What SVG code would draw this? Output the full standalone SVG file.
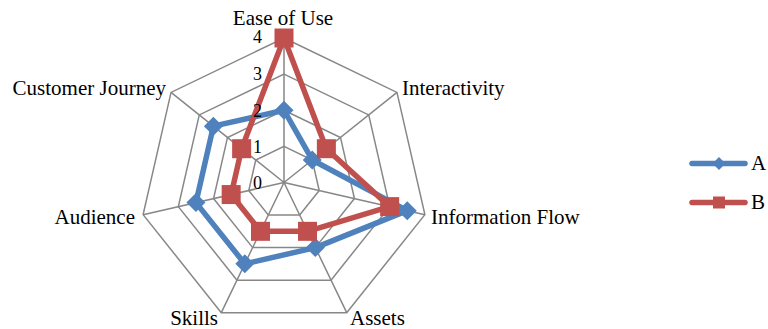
<svg xmlns="http://www.w3.org/2000/svg" width="768" height="329" viewBox="0 0 768 329">
<style>
.grid{fill:none;stroke:#878787;stroke-width:1.5}
.lbl{font-family:'Liberation Serif','Times New Roman','DejaVu Serif',serif;font-size:21px;fill:#000}
.val{font-family:'Liberation Serif','Times New Roman','DejaVu Serif',serif;font-size:18px;fill:#000;text-anchor:end}
.sA{fill:none;stroke:#4F81BD;stroke-width:5.5;stroke-linejoin:round;stroke-linecap:round}
.sB{fill:none;stroke:#C0504D;stroke-width:5.5;stroke-linejoin:round;stroke-linecap:round}
.mA{fill:#4F81BD}
.mB{fill:#C0504D}
</style>
<defs>
<path id="dia" d="M0,-9.5 L9.5,0 L0,9.5 L-9.5,0 Z"/>
<rect id="sq" x="-9.5" y="-9.5" width="19" height="19"/>
<path id="dia-s" d="M0,-6.5 L6.5,0 L0,6.5 L-6.5,0 Z"/>
<rect id="sq-s" x="-6" y="-6" width="12" height="12"/>
</defs>
<rect width="768" height="329" fill="#fff"/>
<g id="grid">
<polygon class="grid" points="284,38 396.97,92.41 424.88,214.65 346.70,312.69 221.30,312.69 143.12,214.65 171.03,92.41"/>
<polygon class="grid" points="284,74.125 368.73,114.93 389.66,206.62 331.02,280.14 236.98,280.14 178.34,206.62 199.27,114.93"/>
<polygon class="grid" points="284,110.25 340.49,137.45 354.44,198.58 315.35,247.60 252.65,247.60 213.56,198.58 227.51,137.45"/>
<polygon class="grid" points="284,146.375 312.24,159.98 319.22,190.54 299.67,215.05 268.33,215.05 248.78,190.54 255.76,159.98"/>
<path class="grid" d="M284,182.5 L284,38 M284,182.5 L396.97,92.41 M284,182.5 L424.88,214.65 M284,182.5 L346.70,312.69 M284,182.5 L221.30,312.69 M284,182.5 L143.12,214.65 M284,182.5 L171.03,92.41"/>
</g>
<g id="axis-labels">
<text class="lbl" x="283" y="25" text-anchor="middle">Ease of Use</text>
<text class="lbl" x="402" y="95">Interactivity</text>
<text class="lbl" x="431" y="224">Information Flow</text>
<text class="lbl" x="350" y="325">Assets</text>
<text class="lbl" x="218" y="325" text-anchor="end">Skills</text>
<text class="lbl" x="135" y="224" text-anchor="end">Audience</text>
<text class="lbl" x="166" y="95" text-anchor="end">Customer Journey</text>
</g>
<g id="series-A">
<polygon class="sA" points="284,110.25 312.24,159.98 407.27,210.63 315.35,247.60 244.82,263.87 195.95,202.60 213.39,126.19"/>
<use href="#dia" class="mA" x="284" y="110.25"/>
<use href="#dia" class="mA" x="312.24" y="159.98"/>
<use href="#dia" class="mA" x="407.27" y="210.63"/>
<use href="#dia" class="mA" x="315.35" y="247.60"/>
<use href="#dia" class="mA" x="244.82" y="263.87"/>
<use href="#dia" class="mA" x="195.95" y="202.60"/>
<use href="#dia" class="mA" x="213.39" y="126.19"/>
</g>
<g id="series-B">
<polygon class="sB" points="284,38 326.37,148.71 389.66,206.62 307.51,231.32 260.49,231.32 231.17,194.56 241.63,148.71"/>
<use href="#sq" class="mB" x="284" y="38"/>
<use href="#sq" class="mB" x="326.37" y="148.71"/>
<use href="#sq" class="mB" x="389.66" y="206.62"/>
<use href="#sq" class="mB" x="307.51" y="231.32"/>
<use href="#sq" class="mB" x="260.49" y="231.32"/>
<use href="#sq" class="mB" x="231.17" y="194.56"/>
<use href="#sq" class="mB" x="241.63" y="148.71"/>
</g>
<g id="axis-values">
<text class="val" x="262" y="43">4</text>
<text class="val" x="262" y="80">3</text>
<text class="val" x="262" y="116.5">2</text>
<text class="val" x="262" y="153">1</text>
<text class="val" x="262" y="189">0</text>
</g>
<g id="legend">
<line class="sA" x1="692" y1="163.5" x2="745" y2="163.5"/>
<use href="#dia-s" class="mA" x="719" y="163.5"/>
<text class="lbl" x="751" y="170">A</text>
<line class="sB" x1="692" y1="202.5" x2="745" y2="202.5"/>
<use href="#sq-s" class="mB" x="719" y="202.5"/>
<text class="lbl" x="751" y="209">B</text>
</g>
</svg>
